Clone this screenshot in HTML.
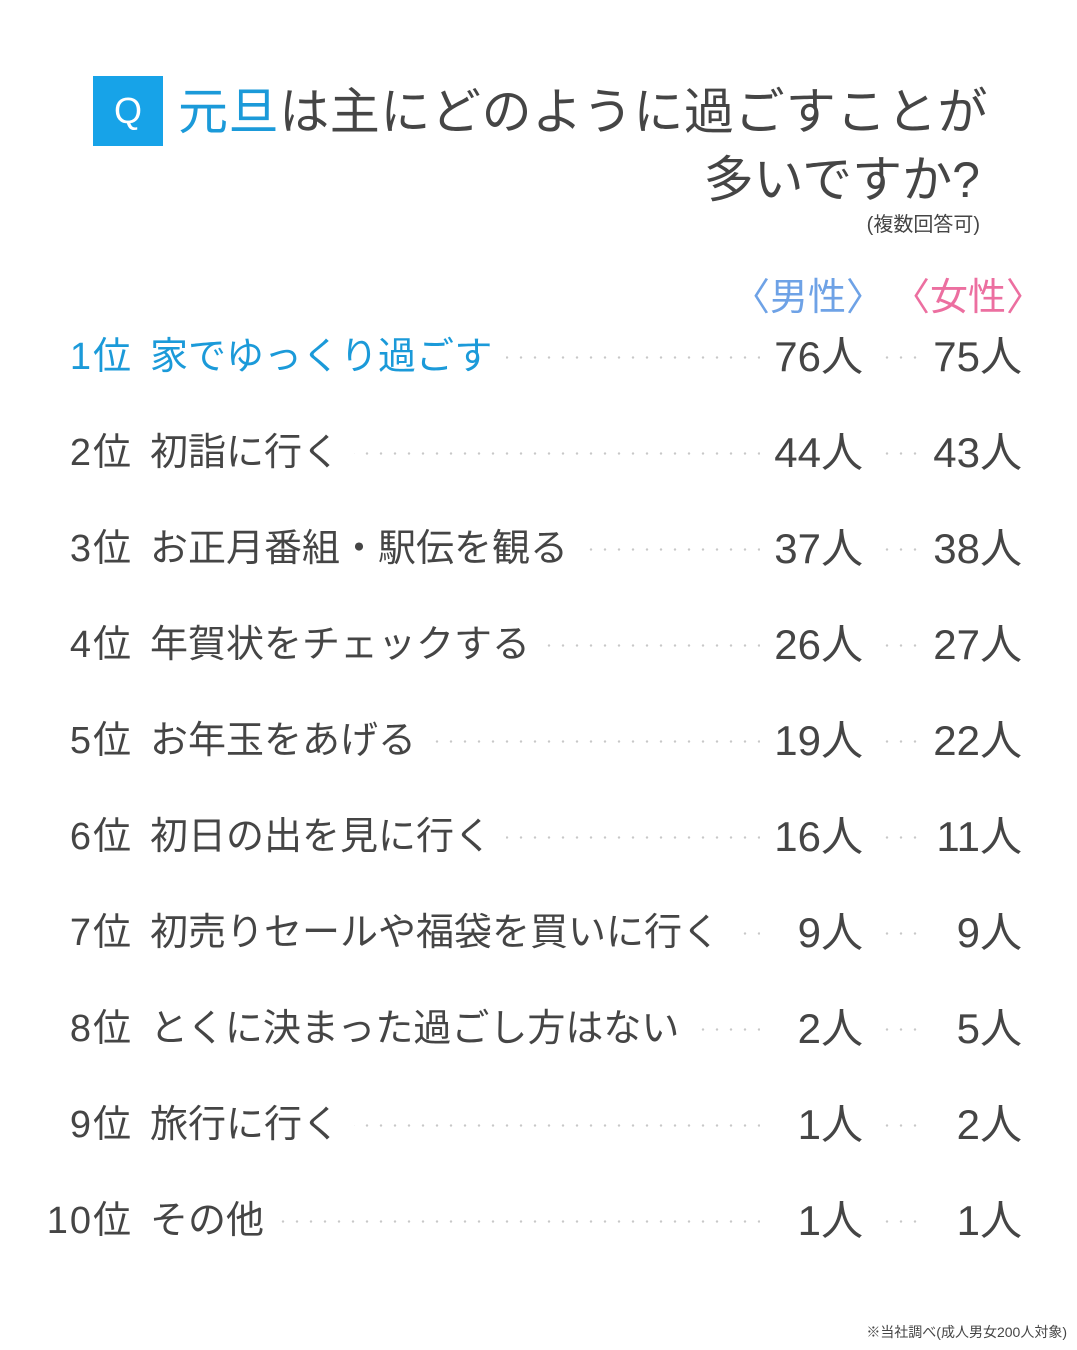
<!DOCTYPE html>
<html><head><meta charset="utf-8"><style>
body{margin:0;width:1077px;height:1350px;background:#fff;position:relative;overflow:hidden;font-family:"Liberation Sans","Noto Sans CJK JP",sans-serif;color:#454545}
.a{position:absolute;white-space:nowrap}
.q{left:93px;top:76px;width:70px;height:70px;background:#17a3e8;color:#fff;font-size:36px;line-height:70px;text-align:center}
.t1{left:178px;top:80px;font-size:50px;line-height:64px;letter-spacing:0.6px}
.t2{right:97px;top:148px;font-size:50px;line-height:64px}
.t3{right:97px;top:210px;font-size:20px;line-height:30px}
.h{top:274px;font-size:38px;line-height:48px}
.row{position:absolute;left:0;width:1077px;height:50px}
.rk{position:absolute;right:944px;font-size:38px;line-height:50px;top:0;letter-spacing:2px}
.dots{position:absolute;left:150px;width:610px;top:24px;height:3px;background:radial-gradient(circle,#c8c8c8 1px,transparent 1.4px) 0 0/14px 3px repeat-x}
.dots2{position:absolute;left:880px;width:42px;top:24px;height:3px;background:radial-gradient(circle,#c8c8c8 1px,transparent 1.4px) 0 0/14px 3px repeat-x}
.lb{position:absolute;left:150px;top:0;font-size:38px;line-height:50px;background:#fff;padding-right:14px}
.m{position:absolute;right:214px;top:0;font-size:42px;line-height:50px;background:#fff;padding-left:10px}
.f{position:absolute;right:55px;top:0;font-size:42px;line-height:50px}
.blue{color:#1b9ad9}
.ft{right:10px;top:1322px;font-size:14px;line-height:20px}
</style></head><body>
<div class="a q">Q</div>
<div class="a t1"><span class="blue">元旦</span>は主にどのように過ごすことが</div>
<div class="a t2">多いですか?</div>
<div class="a t3">(複数回答可)</div>
<div class="a h" style="left:732px;color:#6ea2e6">〈男性〉</div>
<div class="a h" style="left:892px;color:#ec6fa0">〈女性〉</div>

<div class="row" style="top:332px"><div class="dots"></div><div class="dots2"></div><div class="rk blue">1位</div><div class="lb blue">家でゆっくり過ごす</div><div class="m">76人</div><div class="f">75人</div></div>
<div class="row" style="top:428px"><div class="dots"></div><div class="dots2"></div><div class="rk">2位</div><div class="lb">初詣に行く</div><div class="m">44人</div><div class="f">43人</div></div>
<div class="row" style="top:524px"><div class="dots"></div><div class="dots2"></div><div class="rk">3位</div><div class="lb">お正月番組・駅伝を観る</div><div class="m">37人</div><div class="f">38人</div></div>
<div class="row" style="top:620px"><div class="dots"></div><div class="dots2"></div><div class="rk">4位</div><div class="lb">年賀状をチェックする</div><div class="m">26人</div><div class="f">27人</div></div>
<div class="row" style="top:716px"><div class="dots"></div><div class="dots2"></div><div class="rk">5位</div><div class="lb">お年玉をあげる</div><div class="m">19人</div><div class="f">22人</div></div>
<div class="row" style="top:812px"><div class="dots"></div><div class="dots2"></div><div class="rk">6位</div><div class="lb">初日の出を見に行く</div><div class="m">16人</div><div class="f">11人</div></div>
<div class="row" style="top:908px"><div class="dots"></div><div class="dots2"></div><div class="rk">7位</div><div class="lb">初売りセールや福袋を買いに行く</div><div class="m">9人</div><div class="f">9人</div></div>
<div class="row" style="top:1004px"><div class="dots"></div><div class="dots2"></div><div class="rk">8位</div><div class="lb">とくに決まった過ごし方はない</div><div class="m">2人</div><div class="f">5人</div></div>
<div class="row" style="top:1100px"><div class="dots"></div><div class="dots2"></div><div class="rk">9位</div><div class="lb">旅行に行く</div><div class="m">1人</div><div class="f">2人</div></div>
<div class="row" style="top:1196px"><div class="dots"></div><div class="dots2"></div><div class="rk">10位</div><div class="lb">その他</div><div class="m">1人</div><div class="f">1人</div></div>

<div class="a ft">※当社調べ(成人男女200人対象)</div>
</body></html>
